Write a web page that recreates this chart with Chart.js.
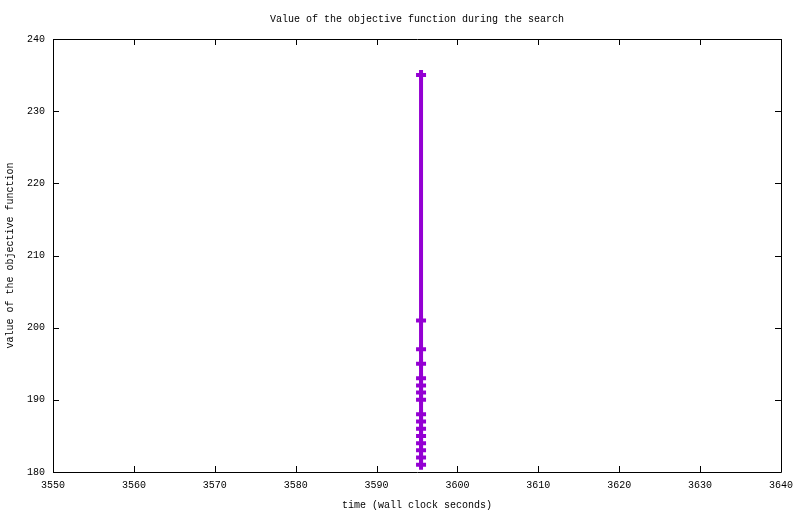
<!DOCTYPE html>
<html>
<head>
<meta charset="utf-8">
<script src="https://cdn.jsdelivr.net/npm/chart.js@4/dist/chart.umd.min.js"></script>
<style>
html,body{margin:0;padding:0;background:#fff;}
canvas{display:block;}
</style>
</head>
<body>
<canvas id="c" width="800" height="514"></canvas>
<script>
const times = [3595.5, 3595.5, 3595.5, 3595.5, 3595.5, 3595.5, 3595.5, 3595.5, 3595.5, 3595.5, 3595.5, 3595.5, 3595.5, 3595.5, 3595.5, 3595.5];
const objective = [235, 201, 197, 195, 193, 192, 191, 190, 188, 187, 186, 185, 184, 183, 182, 181];
const xTicks = [3550, 3560, 3570, 3580, 3590, 3600, 3610, 3620, 3630, 3640];
const yTicks = [180, 190, 200, 210, 220, 230, 240];
const titleText = 'Value of the objective function during the search';
const xTitle = 'time (wall clock seconds)';
const yTitle = 'value of the objective function';

const FONT = "'Liberation Mono', 'DejaVu Sans Mono', monospace";

const points = times.map((t, i) => ({x: t, y: objective[i]}));

const framePlugin = {
  id: 'frame',
  afterDraw(chart) {
    const ctx = chart.ctx, a = chart.chartArea;
    const xs = chart.scales.x, ys = chart.scales.y;
    ctx.save();
    ctx.strokeStyle = '#000';
    ctx.lineWidth = 1;
    ctx.beginPath();
    ctx.rect(Math.round(a.left) + 0.5, Math.round(a.top) + 0.5, Math.round(a.right - a.left), Math.round(a.bottom - a.top));
    ctx.stroke();
    ctx.beginPath();
    const L = 6;
    xTicks.forEach(v => {
      const px = Math.round(xs.getPixelForValue(v)) + 0.5;
      ctx.moveTo(px, a.bottom); ctx.lineTo(px, a.bottom - L);
      ctx.moveTo(px, a.top); ctx.lineTo(px, a.top + L);
    });
    yTicks.forEach(v => {
      const py = Math.round(ys.getPixelForValue(v)) + 0.5;
      ctx.moveTo(a.left, py); ctx.lineTo(a.left + L, py);
      ctx.moveTo(a.right, py); ctx.lineTo(a.right - L, py);
    });
    ctx.stroke();
    ctx.restore();
  }
};

new Chart(document.getElementById('c'), {
  type: 'line',
  data: {
    datasets: [{
      data: points,
      borderColor: '#9400D3',
      backgroundColor: '#9400D3',
      borderWidth: 4,
      pointStyle: 'cross',
      pointRadius: 5,
      pointBorderWidth: 4,
      pointBorderColor: '#9400D3',
      fill: false,
      tension: 0
    }]
  },
  options: {
    responsive: false,
    animation: false,
    devicePixelRatio: 1,
    layout: {padding: {left: 0, right: 19, top: 0, bottom: 0}},
    plugins: {
      legend: {display: false},
      tooltip: {enabled: false},
      title: {
        display: true,
        fullSize: false,
        text: titleText,
        color: '#000',
        font: {family: FONT, size: 10, weight: 'normal'},
        padding: {top: 13, bottom: 14}
      }
    },
    scales: {
      x: {
        type: 'linear',
        min: 3550, max: 3640,
        afterBuildTicks(s) { s.ticks = xTicks.map(v => ({value: v})); },
        afterFit(s) { s.height = 42; s.paddingRight = 0; s.paddingLeft = 0; },
        grid: {display: false, drawTicks: false},
        border: {display: false},
        ticks: {color: '#000', font: {family: FONT, size: 10}, padding: 7, maxRotation: 0, autoSkip: false, callback: v => String(v)},
        title: {display: true, text: xTitle, color: '#000', font: {family: FONT, size: 10}, padding: {top: 4, bottom: 3}}
      },
      y: {
        type: 'linear',
        min: 180, max: 240,
        afterBuildTicks(s) { s.ticks = yTicks.map(v => ({value: v})); },
        afterFit(s) { s.width = 53; },
        grid: {display: false, drawTicks: false},
        border: {display: false},
        ticks: {color: '#000', font: {family: FONT, size: 10}, padding: 8, autoSkip: false, callback: v => String(v)},
        title: {display: true, text: yTitle, color: '#000', font: {family: FONT, size: 10}, padding: {top: 4, bottom: 0}}
      }
    }
  },
  plugins: [framePlugin]
});
</script>
</body>
</html>
